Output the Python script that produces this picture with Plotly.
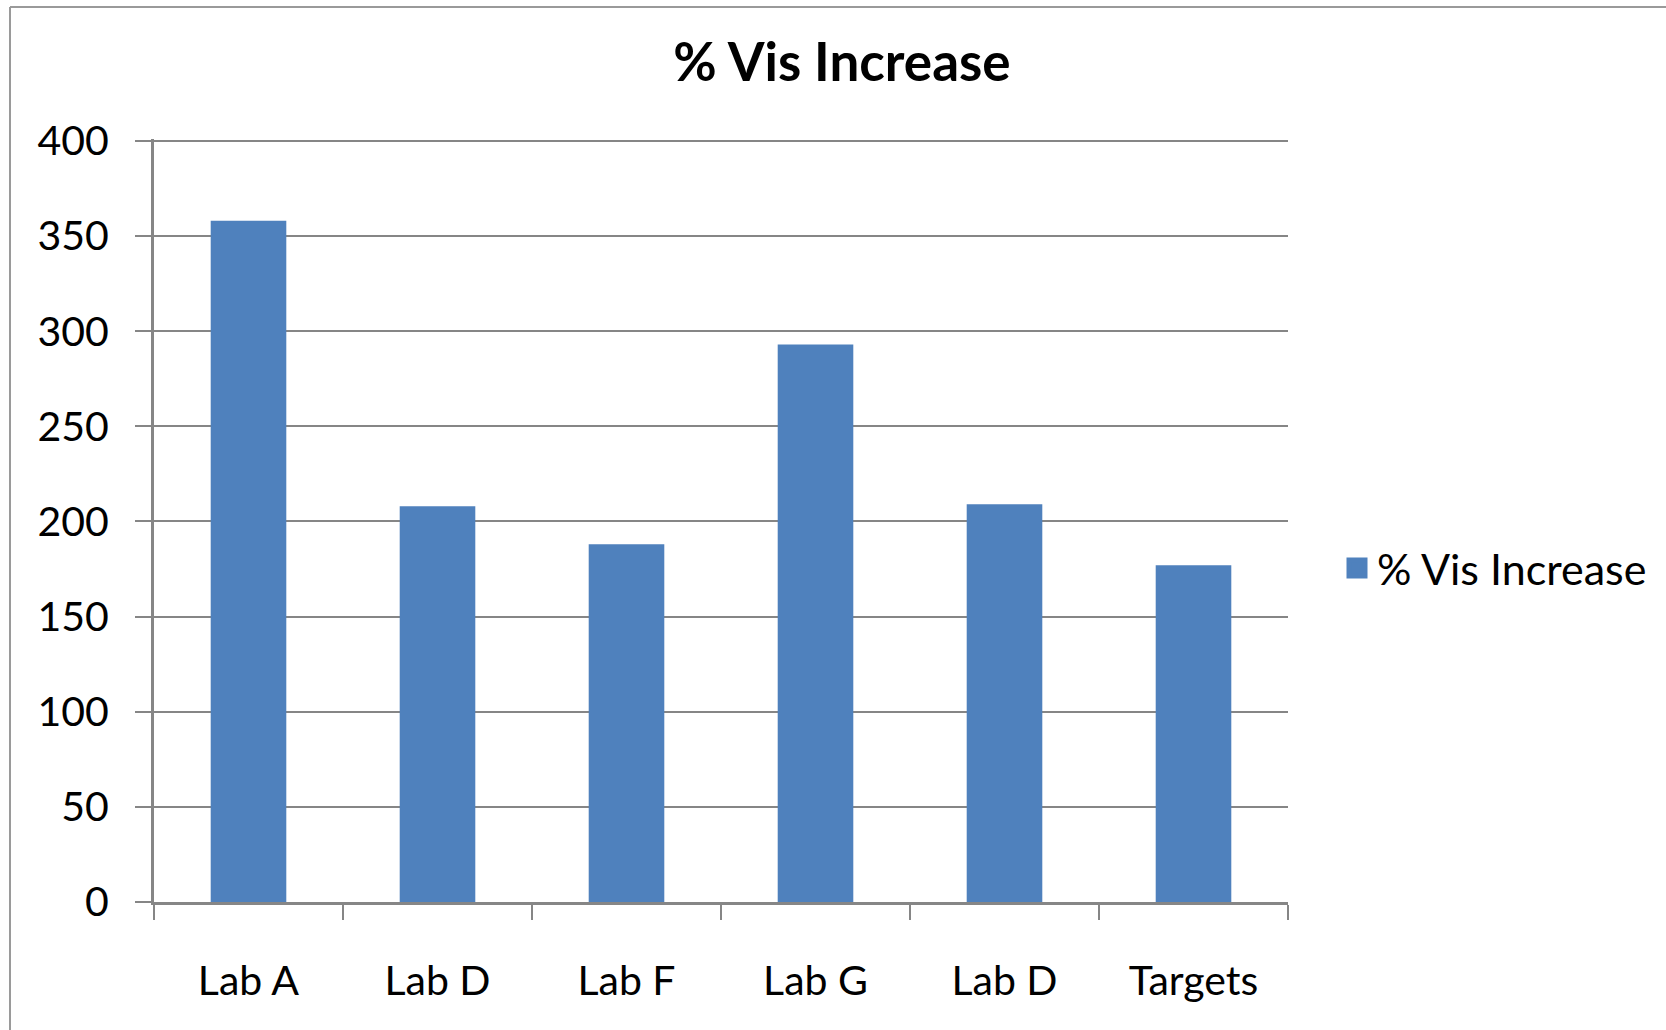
import plotly.graph_objects as go

categories = ["Lab A", "Lab D", "Lab F", "Lab G", "Lab D", "Targets"]
values = [358, 208, 188, 293, 209, 177]
series_name = "% Vis Increase"
y_ticks = [0, 50, 100, 150, 200, 250, 300, 350, 400]

positions = list(range(len(categories)))
boundaries = [p - 0.5 for p in positions] + [positions[-1] + 0.5]

GRAY = "#868686"
BLUE = "#4F81BD"
FONT = "Lato"

W, H = 1666, 1030
L, R, T, B = 154, 1666 - 1288, 139, 1030 - 902
pw, ph = W - L - R, H - T - B

fig = go.Figure()
fig.add_trace(go.Bar(
    x=positions, y=values, name=series_name, width=0.4,
    marker=dict(color=BLUE, line=dict(width=0)), showlegend=False,
))
fig.add_trace(go.Scatter(
    x=[None], y=[None], mode="markers", name=series_name,
    marker=dict(symbol="square", size=16, color=BLUE,
                line=dict(color=BLUE, width=5)),
    showlegend=True,
))

def px_x(px):
    return (px - L) / pw

def px_y(py):
    return (H - B - py) / ph

# outer chart frame (extends past right and bottom edges)
fig.add_shape(type="line", xref="paper", yref="paper",
              x0=px_x(10), x1=px_x(10), y0=px_y(7), y1=px_y(1040),
              line=dict(color="#9a9a9a", width=2))
fig.add_shape(type="line", xref="paper", yref="paper",
              x0=px_x(10), x1=px_x(1700), y0=px_y(7), y1=px_y(7),
              line=dict(color="#9a9a9a", width=2))

fig.update_layout(
    width=W, height=H,
    margin=dict(l=L, r=R, t=T, b=B, autoexpand=False),
    paper_bgcolor="white", plot_bgcolor="white",
    font=dict(family=FONT, color="black", size=41),
    title=dict(text="<b>% Vis Increase</b>", x=842 / W, xref="container",
               y=1 - 62 / H, yref="container", xanchor="center", yanchor="middle",
               font=dict(family=FONT, size=53, color="black")),
    legend=dict(x=px_x(1337), y=px_y(568), xanchor="left", yanchor="middle",
                font=dict(family=FONT, size=43, color="black"),
                bgcolor="rgba(0,0,0,0)", borderwidth=0),
    bargap=0.6,
    hovermode=False,
    xaxis=dict(
        range=[boundaries[0], boundaries[-1]],
        tickmode="array", tickvals=positions, ticktext=categories,
        ticks="", showgrid=False,
        showline=True, linecolor=GRAY, linewidth=3,
        zeroline=False,
        ticklabelstandoff=41,
        tickfont=dict(family=FONT, size=41, color="black"),
        minor=dict(tickmode="array", tickvals=boundaries, ticks="outside",
                   ticklen=15, tickwidth=2, tickcolor=GRAY, showgrid=False),
    ),
    yaxis=dict(
        range=[0, 401], tickmode="array", tickvals=y_ticks,
        ticks="outside", ticklen=16, tickwidth=2, tickcolor=GRAY,
        showgrid=True, gridcolor=GRAY, gridwidth=2,
        showline=True, linecolor=GRAY, linewidth=3,
        zeroline=False,
        ticklabelstandoff=18,
        tickfont=dict(family=FONT, size=41, color="black"),
    ),
)

fig.write_html(
    "out.html",
    config={"displayModeBar": False},
    post_script="document.body.style.margin='0';document.body.style.overflow='hidden';",
)
